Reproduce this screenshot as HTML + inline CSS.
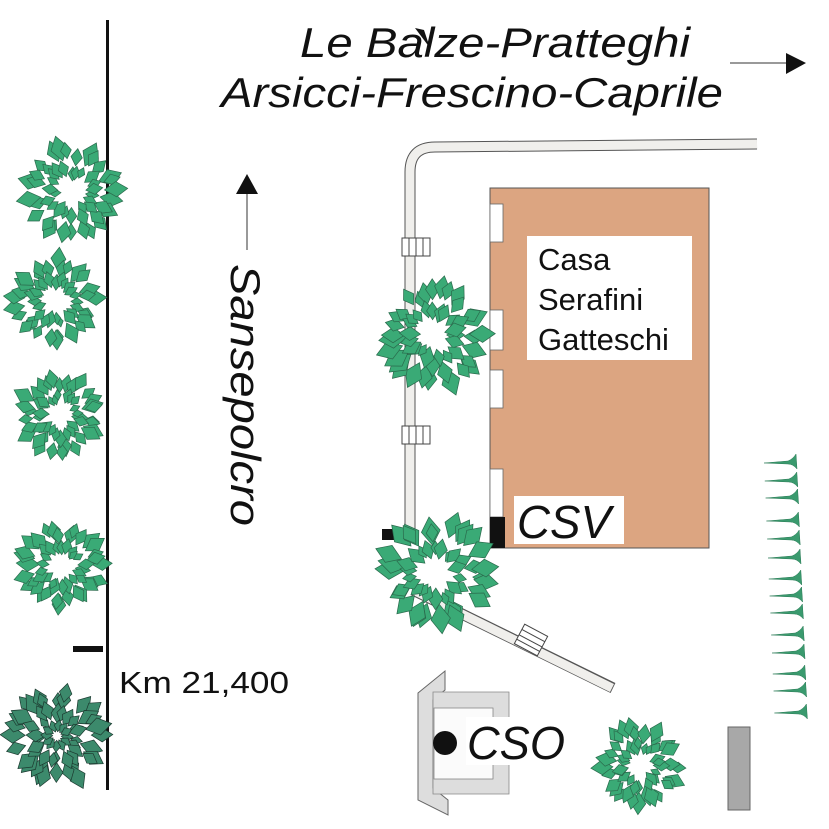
<!DOCTYPE html>
<html><head><meta charset="utf-8"><style>
html,body{margin:0;padding:0;background:#fff;}
svg{display:block;}
text{font-family:"Liberation Sans",sans-serif;}
</style></head><body>
<svg id="s" width="829" height="829" viewBox="0 0 829 829" xmlns="http://www.w3.org/2000/svg">
<defs>
<g id="spike"><path d="M-32,1 L-8,-1 Q-3,-3 0,-8 L1,7 Q-3,2 -8,2 Z" fill="#3a9a6e" stroke="#2a7a55" stroke-width="0.5"/></g>
</defs>
<rect width="829" height="829" fill="#fff"/>
<rect x="106" y="20" width="3" height="770" fill="#111"/>
<rect x="73" y="646" width="30" height="6" fill="#111"/>
<path d="M410,535 L410,172 Q410,147 435,147 L757,144" fill="none" stroke="#555" stroke-width="11"/>
<path d="M410,535 L410,172 Q410,147 435,147 L757,144" fill="none" stroke="#f0efec" stroke-width="9"/>
<path d="M413,590 L613,688" stroke="#555" stroke-width="11" fill="none"/>
<path d="M413,590 L612,688" stroke="#f0efec" stroke-width="9" fill="none"/>
<g fill="#fff" stroke="#444" stroke-width="1">
<rect x="402" y="238" width="28" height="18"/><line x1="409" y1="238" x2="409" y2="256"/><line x1="416" y1="238" x2="416" y2="256"/><line x1="423" y1="238" x2="423" y2="256"/>
<rect x="402" y="426" width="28" height="18"/><line x1="409" y1="426" x2="409" y2="444"/><line x1="416" y1="426" x2="416" y2="444"/><line x1="423" y1="426" x2="423" y2="444"/>
<g transform="translate(531,640) rotate(28)"><rect x="-13" y="-11" width="26" height="22"/><line x1="-13" y1="-5" x2="13" y2="-5"/><line x1="-13" y1="1" x2="13" y2="1"/><line x1="-13" y1="6" x2="13" y2="6"/></g>
</g>
<rect x="382" y="529" width="24" height="11" fill="#111"/>
<rect x="490" y="188" width="219" height="360" fill="#dca581" stroke="#555" stroke-width="1"/>
<g fill="#fff" stroke="#666" stroke-width="0.8">
<rect x="490" y="204" width="13" height="38"/>
<rect x="490" y="310" width="13" height="40"/>
<rect x="490" y="370" width="13" height="38"/>
<rect x="490" y="469" width="13" height="48"/>
</g>
<rect x="490" y="517" width="15" height="31" fill="#111"/>
<rect x="527" y="236" width="165" height="124" fill="#fff"/>
<text x="538" y="270" font-size="31" fill="#111">Casa</text>
<text x="538" y="310" font-size="31" fill="#111">Serafini</text>
<text x="538" y="350" font-size="31" fill="#111">Gatteschi</text>
<rect x="514" y="496" width="110" height="48" fill="#fff"/>
<text x="517" y="538" font-size="46" font-style="italic" fill="#111" textLength="94" lengthAdjust="spacingAndGlyphs">CSV</text>
<polygon points="418,693 445,671 445,690 433,700 433,788 448,800 448,815 418,800" fill="#ddd" stroke="#666" stroke-width="1"/>
<path d="M433,692 L509,692 L509,794 L433,794 Z" fill="#ddd" stroke="#888" stroke-width="0.8"/>
<rect x="434" y="708" width="59" height="71" fill="#fbfbfb" stroke="#888" stroke-width="0.8"/>
<rect x="466" y="717" width="100" height="48" fill="#fff"/>
<circle cx="445" cy="743" r="12" fill="#111"/>
<text x="467" y="759" font-size="46" font-style="italic" fill="#111" textLength="98" lengthAdjust="spacingAndGlyphs">CSO</text>
<rect x="728" y="727" width="22" height="83" fill="#a8a8a8" stroke="#666" stroke-width="1"/>
<g id="spikes"></g>
<g id="trees"></g>
<text x="300" y="57" font-size="42" font-style="italic" fill="#111" textLength="390" lengthAdjust="spacingAndGlyphs">Le Balze-Pratteghi</text>
<text x="221" y="107" font-size="42" font-style="italic" fill="#111" textLength="502" lengthAdjust="spacingAndGlyphs">Arsicci-Frescino-Caprile</text>
<path d="M415,28 L430,48 L424,30 Z" fill="#111"/>
<line x1="730" y1="63" x2="788" y2="63" stroke="#333" stroke-width="1"/>
<polygon points="786,53 806,63 786,74" fill="#111"/>
<line x1="247" y1="192" x2="247" y2="250" stroke="#333" stroke-width="1"/>
<polygon points="236,194 247,174 258,194" fill="#111"/>
<text transform="translate(231,264) rotate(90)" font-size="42" font-style="italic" fill="#111" textLength="262" lengthAdjust="spacingAndGlyphs">Sansepolcro</text>
<text x="119" y="693" font-size="31" fill="#111" textLength="170" lengthAdjust="spacingAndGlyphs">Km 21,400</text>
</svg>
<script>
var NS="http://www.w3.org/2000/svg";
function leaf(g,cx,cy,ang,dist,len,w,fill,stroke){
 var p=document.createElementNS(NS,"path");
 var a=ang*Math.PI/180, ca=Math.cos(a), sa=Math.sin(a);
 function pt(u,v){return (cx+ca*(dist+u)-sa*v).toFixed(1)+","+(cy+sa*(dist+u)+ca*v).toFixed(1);}
 p.setAttribute("d","M"+pt(0,0)+" L"+pt(len*0.5,-w)+" L"+pt(len,0)+" L"+pt(len*0.5,w)+" Z");
 p.setAttribute("fill",fill);p.setAttribute("stroke",stroke);p.setAttribute("stroke-width","0.7");
 g.appendChild(p);
}
function tree(cx,cy,r,dark){
 var g=document.getElementById("trees");
 var fill=dark?"#3c8a6c":"#3aaa76", st=dark?"#1c3a30":"#2a6a4c";
 var seed=(cx*7+cy*3)%233280;
 function rnd(){seed=(seed*9301+49297)%233280;return seed/233280;}
 for(var i=0;i<30;i++){var ang=i*12+rnd()*10;var d=r*(0.45+rnd()*0.2);var l=r*(0.3+rnd()*0.2);leaf(g,cx,cy,ang+rnd()*16-8,d,l,l*0.33,fill,st);}
 for(var i=0;i<22;i++){var ang=i*16.4+rnd()*14;var d=r*(0.2+rnd()*0.15);var l=r*(0.22+rnd()*0.16);leaf(g,cx,cy,ang,d,l,l*0.33,fill,st);}
 if(dark){for(var i=0;i<12;i++){leaf(g,cx,cy,i*30+rnd()*10,r*0.08,r*0.22,r*0.08,fill,st);}}
}
tree(72,192,52);tree(55,300,48);tree(60,415,46);tree(62,566,48);tree(57,736,54,true);
tree(433,335,58);tree(436,573,60);tree(640,765,46);
var sp=document.getElementById("spikes");
[462,480,497,520,538,557,578,595,612,634,652,673,690,712].forEach(function(y,i){
 var u=document.createElementNS(NS,"use");u.setAttribute("href","#spike");
 u.setAttribute("transform","translate("+(796+i*0.8)+","+y+")");sp.appendChild(u);});
</script>
</body></html>
